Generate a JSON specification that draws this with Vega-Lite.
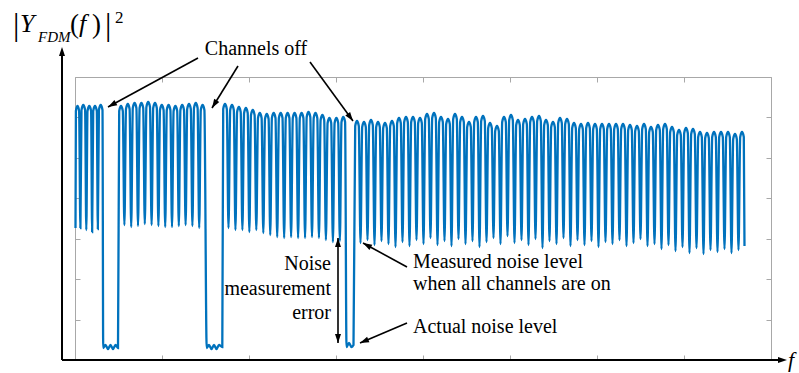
{
 "$schema": "https://vega.github.io/schema/vega-lite/v6.json",
 "width": 696,
 "height": 283,
 "autosize": {"type": "none"},
 "padding": {"left": 75, "top": 77, "right": 28, "bottom": 13},
 "background": "white",
 "config": {
  "view": {"stroke": "#a8a8a8", "strokeWidth": 1},
  "axis": {"labels": false, "domain": false, "grid": false, "tickSize": -5, "tickColor": "#a8a8a8", "tickWidth": 1}
 },
 "resolve": {"axis": {"x": "independent", "y": "independent"}},
 "datasets": {
  "signal": [
   {"f":0.5,"p":132},
   {"f":0.9,"p":249},{"f":2.5,"p":254},{"f":4.1,"p":249},{"f":5.4,"p":132},
   {"f":6.5,"p":250},{"f":8.3,"p":255},{"f":10.1,"p":250},{"f":11.3,"p":130},
   {"f":12.5,"p":249},{"f":14.3,"p":254},{"f":16.1,"p":249},{"f":17.15,"p":128},
   {"f":18.2,"p":249},{"f":20,"p":254},{"f":21.8,"p":249},{"f":22.85,"p":131},
   {"f":23.9,"p":250},{"f":25.7,"p":255},{"f":27.5,"p":250},
   {"f":28.2,"p":12},{"f":30.5,"p":15},{"f":33,"p":11},{"f":35.5,"p":15},{"f":38,"p":11},{"f":40.5,"p":15},{"f":43,"p":12},
   {"f":44.2,"p":249},{"f":46,"p":254},{"f":47.8,"p":249},{"f":49.4,"p":135},
   {"f":51,"p":251},{"f":52.8,"p":256},{"f":54.6,"p":251},{"f":56.2,"p":133},
   {"f":57.8,"p":252},{"f":59.6,"p":257},{"f":61.4,"p":252},{"f":63,"p":134},
   {"f":64.6,"p":252},{"f":66.4,"p":257},{"f":68.2,"p":252},{"f":69.8,"p":136},
   {"f":71.4,"p":253},{"f":73.2,"p":258},{"f":75,"p":253},{"f":76.6,"p":135},
   {"f":78.2,"p":252},{"f":80,"p":257},{"f":81.8,"p":252},{"f":83.4,"p":134},
   {"f":85,"p":250},{"f":86.8,"p":255},{"f":88.6,"p":250},{"f":90.2,"p":133},
   {"f":91.8,"p":250},{"f":93.6,"p":255},{"f":95.4,"p":250},{"f":97,"p":133},
   {"f":98.6,"p":249},{"f":100.4,"p":254},{"f":102.2,"p":249},{"f":103.8,"p":134},
   {"f":105.4,"p":250},{"f":107.2,"p":255},{"f":109,"p":250},{"f":110.6,"p":135},
   {"f":112.2,"p":251},{"f":114,"p":256},{"f":115.8,"p":251},{"f":117.4,"p":134},
   {"f":119,"p":252},{"f":120.8,"p":257},{"f":122.6,"p":252},{"f":124.2,"p":132},
   {"f":125.8,"p":250},{"f":127.6,"p":255},{"f":129.4,"p":250},
   {"f":131.7,"p":12},{"f":134,"p":15},{"f":136.5,"p":11},{"f":139,"p":15},{"f":141.5,"p":11},{"f":144,"p":15},{"f":147.3,"p":13},
   {"f":148.2,"p":251},{"f":150,"p":256},{"f":151.8,"p":251},{"f":153.5,"p":132},
   {"f":155.2,"p":250},{"f":157,"p":255},{"f":158.8,"p":250},{"f":160.45,"p":130},
   {"f":162.1,"p":248},{"f":163.9,"p":253},{"f":165.7,"p":248},{"f":167.4,"p":130},
   {"f":169.1,"p":247},{"f":170.9,"p":252},{"f":172.7,"p":247},{"f":174.35,"p":128},
   {"f":176,"p":245},{"f":177.8,"p":250},{"f":179.6,"p":245},{"f":181.3,"p":130},
   {"f":183,"p":242},{"f":184.8,"p":247},{"f":186.6,"p":242},{"f":188.3,"p":127},
   {"f":190,"p":241},{"f":191.8,"p":246},{"f":193.6,"p":241},{"f":195.25,"p":125},
   {"f":196.9,"p":242},{"f":198.7,"p":247},{"f":200.5,"p":242},{"f":202.2,"p":123},
   {"f":203.9,"p":242},{"f":205.7,"p":247},{"f":207.5,"p":242},{"f":209.15,"p":122},
   {"f":210.8,"p":242},{"f":212.6,"p":247},{"f":214.4,"p":242},{"f":216.1,"p":123},
   {"f":217.8,"p":242},{"f":219.6,"p":247},{"f":221.4,"p":242},{"f":223.1,"p":122},
   {"f":224.8,"p":242},{"f":226.6,"p":247},{"f":228.4,"p":242},{"f":230.05,"p":122},
   {"f":231.7,"p":243},{"f":233.5,"p":248},{"f":235.3,"p":243},{"f":237,"p":123},
   {"f":238.7,"p":242},{"f":240.5,"p":247},{"f":242.3,"p":242},{"f":243.95,"p":122},
   {"f":245.6,"p":240},{"f":247.4,"p":245},{"f":249.2,"p":240},{"f":250.9,"p":120},
   {"f":252.6,"p":237},{"f":254.4,"p":242},{"f":256.2,"p":237},{"f":257.9,"p":118},
   {"f":259.6,"p":237},{"f":261.4,"p":242},{"f":263.2,"p":237},{"f":264.85,"p":119},
   {"f":266.5,"p":238},{"f":268.3,"p":243},{"f":270.1,"p":238},
   {"f":271.5,"p":13},{"f":274,"p":17},{"f":276.5,"p":13},{"f":278.5,"p":15},
   {"f":280.2,"p":234},{"f":282,"p":239},{"f":283.8,"p":234},{"f":285.5,"p":117},
   {"f":287.2,"p":233},{"f":289,"p":238},{"f":290.8,"p":233},{"f":292.5,"p":120},
   {"f":294.2,"p":235},{"f":296,"p":240},{"f":297.8,"p":235},{"f":299.5,"p":115},
   {"f":301.2,"p":233},{"f":303,"p":238},{"f":304.8,"p":233},{"f":306.5,"p":119},
   {"f":308.2,"p":232},{"f":310,"p":237},{"f":311.8,"p":232},{"f":313.5,"p":116},
   {"f":315.2,"p":234},{"f":317,"p":239},{"f":318.8,"p":234},{"f":320.5,"p":113},
   {"f":322.2,"p":237},{"f":324,"p":242},{"f":325.8,"p":237},{"f":327.5,"p":118},
   {"f":329.2,"p":238},{"f":331,"p":243},{"f":332.8,"p":238},{"f":334.5,"p":114},
   {"f":336.2,"p":238},{"f":338,"p":243},{"f":339.8,"p":238},{"f":341.5,"p":120},
   {"f":343.2,"p":237},{"f":345,"p":242},{"f":346.8,"p":237},{"f":348.5,"p":116},
   {"f":350.2,"p":241},{"f":352,"p":246},{"f":353.8,"p":241},{"f":355.5,"p":122},
   {"f":357.2,"p":242},{"f":359,"p":247},{"f":360.8,"p":242},{"f":362.5,"p":115},
   {"f":364.2,"p":238},{"f":366,"p":243},{"f":367.8,"p":238},{"f":369.5,"p":119},
   {"f":371.2,"p":236},{"f":373,"p":241},{"f":374.8,"p":236},{"f":376.5,"p":114},
   {"f":378.2,"p":241},{"f":380,"p":246},{"f":381.8,"p":241},{"f":383.5,"p":121},
   {"f":385.2,"p":238},{"f":387,"p":243},{"f":388.8,"p":238},{"f":390.5,"p":116},
   {"f":392.2,"p":233},{"f":394,"p":238},{"f":395.8,"p":233},{"f":397.5,"p":119},
   {"f":399.2,"p":238},{"f":401,"p":243},{"f":402.8,"p":238},{"f":404.5,"p":113},
   {"f":406.2,"p":239},{"f":408,"p":244},{"f":409.8,"p":239},{"f":411.5,"p":118},
   {"f":413.2,"p":232},{"f":415,"p":237},{"f":416.8,"p":232},{"f":418.5,"p":122},
   {"f":420.2,"p":229},{"f":422,"p":234},{"f":423.8,"p":229},{"f":425.5,"p":116},
   {"f":427.2,"p":238},{"f":429,"p":243},{"f":430.8,"p":238},{"f":432.5,"p":124},
   {"f":434.2,"p":240},{"f":436,"p":245},{"f":437.8,"p":240},{"f":439.5,"p":117},
   {"f":441.2,"p":235},{"f":443,"p":240},{"f":444.8,"p":235},{"f":446.5,"p":120},
   {"f":448.2,"p":236},{"f":450,"p":241},{"f":451.8,"p":236},{"f":453.5,"p":115},
   {"f":455.2,"p":238},{"f":457,"p":243},{"f":458.8,"p":238},{"f":460.5,"p":121},
   {"f":462.2,"p":239},{"f":464,"p":244},{"f":465.8,"p":239},{"f":467.5,"p":112},
   {"f":469.2,"p":235},{"f":471,"p":240},{"f":472.8,"p":235},{"f":474.5,"p":119},
   {"f":476.2,"p":233},{"f":478,"p":238},{"f":479.8,"p":233},{"f":481.5,"p":116},
   {"f":483.2,"p":237},{"f":485,"p":242},{"f":486.8,"p":237},{"f":488.5,"p":122},
   {"f":490.2,"p":236},{"f":492,"p":241},{"f":493.8,"p":236},{"f":495.5,"p":114},
   {"f":497.2,"p":232},{"f":499,"p":237},{"f":500.8,"p":232},{"f":502.5,"p":120},
   {"f":504.2,"p":231},{"f":506,"p":236},{"f":507.8,"p":231},{"f":509.5,"p":115},
   {"f":511.2,"p":232},{"f":513,"p":237},{"f":514.8,"p":232},{"f":516.5,"p":119},
   {"f":518.2,"p":231},{"f":520,"p":236},{"f":521.8,"p":231},{"f":523.5,"p":113},
   {"f":525.2,"p":231},{"f":527,"p":236},{"f":528.8,"p":231},{"f":530.5,"p":118},
   {"f":532.2,"p":231},{"f":534,"p":236},{"f":535.8,"p":231},{"f":537.5,"p":116},
   {"f":539.2,"p":231},{"f":541,"p":236},{"f":542.8,"p":231},{"f":544.5,"p":120},
   {"f":546.2,"p":231},{"f":548,"p":236},{"f":549.8,"p":231},{"f":551.5,"p":114},
   {"f":553.2,"p":230},{"f":555,"p":235},{"f":556.8,"p":230},{"f":558.5,"p":117},
   {"f":560.2,"p":229},{"f":562,"p":234},{"f":563.8,"p":229},{"f":565.5,"p":121},
   {"f":567.2,"p":231},{"f":569,"p":236},{"f":570.8,"p":231},{"f":572.5,"p":114},
   {"f":574.2,"p":228},{"f":576,"p":233},{"f":577.8,"p":228},{"f":579.5,"p":116},
   {"f":581.2,"p":230},{"f":583,"p":235},{"f":584.8,"p":230},{"f":586.5,"p":111},
   {"f":588.2,"p":231},{"f":590,"p":236},{"f":591.8,"p":231},{"f":593.5,"p":115},
   {"f":595.2,"p":228},{"f":597,"p":233},{"f":598.8,"p":228},{"f":600.5,"p":109},
   {"f":602.2,"p":225},{"f":604,"p":230},{"f":605.8,"p":225},{"f":607.5,"p":113},
   {"f":609.2,"p":227},{"f":611,"p":232},{"f":612.8,"p":227},{"f":614.5,"p":107},
   {"f":616.2,"p":226},{"f":618,"p":231},{"f":619.8,"p":226},{"f":621.5,"p":112},
   {"f":623.2,"p":223},{"f":625,"p":228},{"f":626.8,"p":223},{"f":628.5,"p":106},
   {"f":630.2,"p":222},{"f":632,"p":227},{"f":633.8,"p":222},{"f":635.5,"p":110},
   {"f":637.2,"p":223},{"f":639,"p":228},{"f":640.8,"p":223},{"f":642.5,"p":108},
   {"f":644.2,"p":223},{"f":646,"p":228},{"f":647.8,"p":223},{"f":649.5,"p":111},
   {"f":651.2,"p":223},{"f":653,"p":228},{"f":654.8,"p":223},{"f":656.5,"p":107},
   {"f":658.2,"p":221},{"f":660,"p":226},{"f":661.8,"p":221},{"f":663.5,"p":110},
   {"f":665.2,"p":223},{"f":667,"p":228},{"f":668.8,"p":223},{"f":669.5,"p":114}
  ],
  "axes": [
   {"x":-13,"y":0,"x2":-13,"y2":306},
   {"x":-13,"y":0,"x2":706,"y2":0}
  ],
  "arrows": [
   {"x":123,"y":302,"x2":33,"y2":253},
   {"x":163,"y":294,"x2":137,"y2":252},
   {"x":235,"y":298,"x2":278,"y2":239},
   {"x":263,"y":122,"x2":263,"y2":17},
   {"x":332,"y":93,"x2":288,"y2":117},
   {"x":332,"y":37,"x2":285,"y2":17}
  ],
  "heads": [
   {"x":33,"y":253,"a":241.4},
   {"x":137,"y":252,"a":211.8},
   {"x":278,"y":239,"a":143.9},
   {"x":263,"y":122,"a":0},
   {"x":263,"y":17,"a":180},
   {"x":288,"y":117,"a":298.6},
   {"x":285,"y":17,"a":247},
   {"x":-13,"y":313,"a":0},
   {"x":712,"y":0,"a":90}
  ],
  "notes": [
   {"g":"c20","x":181,"y":305,"t":"Channels off"},
   {"g":"r20","x":256,"y":90,"t":"Noise"},
   {"g":"r20","x":256,"y":65,"t":"measurement"},
   {"g":"r20","x":256,"y":41,"t":"error"},
   {"g":"l20","x":338,"y":92,"t":"Measured noise level"},
   {"g":"l20","x":338,"y":70,"t":"when all channels are on"},
   {"g":"l20","x":338,"y":27,"t":"Actual noise level"},
   {"g":"bar","x":-62,"y":325,"t":"|"},
   {"g":"bar","x":30,"y":325,"t":"|"},
   {"g":"par","x":-5,"y":327,"t":"("},
   {"g":"par","x":17,"y":327,"t":")"},
   {"g":"it26","x":-55,"y":328,"t":"Y"},
   {"g":"it26","x":4,"y":328,"t":"f"},
   {"g":"it15","x":-37,"y":318,"t":"FDM"},
   {"g":"sup","x":40,"y":337,"t":"2"},
   {"g":"it22","x":713,"y":-7,"t":"f"}
  ]
 },
 "layer": [
  {
   "data": {"name": "signal"},
   "mark": {"type": "line", "color": "#0072BD", "strokeWidth": 2.3, "interpolate": "monotone"},
   "encoding": {
    "x": {"field": "f", "type": "quantitative", "scale": {"domain": [0, 696], "nice": false, "zero": false}, "axis": {"orient": "bottom", "values": [0,87,174,261,348,435,522,609,696], "title": null}},
    "y": {"field": "p", "type": "quantitative", "scale": {"domain": [0, 283], "nice": false, "zero": false}, "axis": {"orient": "left", "values": [0,40.4,80.9,121.3,161.7,202.1,242.6,283], "title": null}}
   }
  },
  {
   "data": {"name": "axes"},
   "mark": {"type": "rule", "color": "black", "strokeWidth": 2, "clip": false},
   "encoding": {
    "x": {"field": "x", "type": "quantitative", "scale": {"domain": [0, 696], "nice": false, "zero": false}, "axis": {"orient": "top", "values": [0,87,174,261,348,435,522,609,696], "title": null}},
    "y": {"field": "y", "type": "quantitative", "scale": {"domain": [0, 283], "nice": false, "zero": false}, "axis": {"orient": "right", "values": [0,40.4,80.9,121.3,161.7,202.1,242.6,283], "title": null}},
    "x2": {"field": "x2"},
    "y2": {"field": "y2"}
   }
  },
  {
   "data": {"name": "arrows"},
   "mark": {"type": "rule", "color": "black", "strokeWidth": 1.6, "clip": false},
   "encoding": {
    "x": {"field": "x", "type": "quantitative", "scale": {"domain": [0, 696], "nice": false, "zero": false}, "axis": null},
    "y": {"field": "y", "type": "quantitative", "scale": {"domain": [0, 283], "nice": false, "zero": false}, "axis": null},
    "x2": {"field": "x2"},
    "y2": {"field": "y2"}
   }
  },
  {
   "data": {"name": "heads"},
   "mark": {"type": "point", "shape": "M0,0L0.8,2.4L-0.8,2.4Z", "filled": true, "color": "black", "opacity": 1, "size": 56, "strokeWidth": 0, "clip": false},
   "encoding": {
    "x": {"field": "x", "type": "quantitative", "scale": {"domain": [0, 696], "nice": false, "zero": false}, "axis": null},
    "y": {"field": "y", "type": "quantitative", "scale": {"domain": [0, 283], "nice": false, "zero": false}, "axis": null},
    "angle": {"field": "a", "type": "quantitative", "scale": null}
   }
  },
  {
   "data": {"name": "notes"},
   "transform": [{"filter": "datum.g === 'c20'"}],
   "mark": {"type": "text", "align": "center", "baseline": "alphabetic", "font": "Liberation Serif", "fontSize": 20, "color": "black", "clip": false},
   "encoding": {
    "x": {"field": "x", "type": "quantitative", "scale": {"domain": [0, 696], "nice": false, "zero": false}, "axis": null},
    "y": {"field": "y", "type": "quantitative", "scale": {"domain": [0, 283], "nice": false, "zero": false}, "axis": null},
    "text": {"field": "t"}
   }
  },
  {
   "data": {"name": "notes"},
   "transform": [{"filter": "datum.g === 'r20'"}],
   "mark": {"type": "text", "align": "right", "baseline": "alphabetic", "font": "Liberation Serif", "fontSize": 20, "color": "black", "clip": false},
   "encoding": {
    "x": {"field": "x", "type": "quantitative", "scale": {"domain": [0, 696], "nice": false, "zero": false}, "axis": null},
    "y": {"field": "y", "type": "quantitative", "scale": {"domain": [0, 283], "nice": false, "zero": false}, "axis": null},
    "text": {"field": "t"}
   }
  },
  {
   "data": {"name": "notes"},
   "transform": [{"filter": "datum.g === 'l20'"}],
   "mark": {"type": "text", "align": "left", "baseline": "alphabetic", "font": "Liberation Serif", "fontSize": 20, "color": "black", "clip": false},
   "encoding": {
    "x": {"field": "x", "type": "quantitative", "scale": {"domain": [0, 696], "nice": false, "zero": false}, "axis": null},
    "y": {"field": "y", "type": "quantitative", "scale": {"domain": [0, 283], "nice": false, "zero": false}, "axis": null},
    "text": {"field": "t"}
   }
  },
  {
   "data": {"name": "notes"},
   "transform": [{"filter": "datum.g === 'bar'"}],
   "mark": {"type": "text", "align": "left", "baseline": "alphabetic", "font": "Liberation Serif", "fontSize": 32, "color": "black", "clip": false},
   "encoding": {
    "x": {"field": "x", "type": "quantitative", "scale": {"domain": [0, 696], "nice": false, "zero": false}, "axis": null},
    "y": {"field": "y", "type": "quantitative", "scale": {"domain": [0, 283], "nice": false, "zero": false}, "axis": null},
    "text": {"field": "t"}
   }
  },
  {
   "data": {"name": "notes"},
   "transform": [{"filter": "datum.g === 'par'"}],
   "mark": {"type": "text", "align": "left", "baseline": "alphabetic", "font": "Liberation Serif", "fontSize": 27, "color": "black", "clip": false},
   "encoding": {
    "x": {"field": "x", "type": "quantitative", "scale": {"domain": [0, 696], "nice": false, "zero": false}, "axis": null},
    "y": {"field": "y", "type": "quantitative", "scale": {"domain": [0, 283], "nice": false, "zero": false}, "axis": null},
    "text": {"field": "t"}
   }
  },
  {
   "data": {"name": "notes"},
   "transform": [{"filter": "datum.g === 'it26'"}],
   "mark": {"type": "text", "align": "left", "baseline": "alphabetic", "font": "Liberation Serif", "fontStyle": "italic", "fontSize": 26, "color": "black", "clip": false},
   "encoding": {
    "x": {"field": "x", "type": "quantitative", "scale": {"domain": [0, 696], "nice": false, "zero": false}, "axis": null},
    "y": {"field": "y", "type": "quantitative", "scale": {"domain": [0, 283], "nice": false, "zero": false}, "axis": null},
    "text": {"field": "t"}
   }
  },
  {
   "data": {"name": "notes"},
   "transform": [{"filter": "datum.g === 'it15'"}],
   "mark": {"type": "text", "align": "left", "baseline": "alphabetic", "font": "Liberation Serif", "fontStyle": "italic", "fontSize": 15, "color": "black", "clip": false},
   "encoding": {
    "x": {"field": "x", "type": "quantitative", "scale": {"domain": [0, 696], "nice": false, "zero": false}, "axis": null},
    "y": {"field": "y", "type": "quantitative", "scale": {"domain": [0, 283], "nice": false, "zero": false}, "axis": null},
    "text": {"field": "t"}
   }
  },
  {
   "data": {"name": "notes"},
   "transform": [{"filter": "datum.g === 'sup'"}],
   "mark": {"type": "text", "align": "left", "baseline": "alphabetic", "font": "Liberation Serif", "fontSize": 17, "color": "black", "clip": false},
   "encoding": {
    "x": {"field": "x", "type": "quantitative", "scale": {"domain": [0, 696], "nice": false, "zero": false}, "axis": null},
    "y": {"field": "y", "type": "quantitative", "scale": {"domain": [0, 283], "nice": false, "zero": false}, "axis": null},
    "text": {"field": "t"}
   }
  },
  {
   "data": {"name": "notes"},
   "transform": [{"filter": "datum.g === 'it22'"}],
   "mark": {"type": "text", "align": "left", "baseline": "alphabetic", "font": "Liberation Serif", "fontStyle": "italic", "fontSize": 22, "color": "black", "clip": false},
   "encoding": {
    "x": {"field": "x", "type": "quantitative", "scale": {"domain": [0, 696], "nice": false, "zero": false}, "axis": null},
    "y": {"field": "y", "type": "quantitative", "scale": {"domain": [0, 283], "nice": false, "zero": false}, "axis": null},
    "text": {"field": "t"}
   }
  }
 ]
}
